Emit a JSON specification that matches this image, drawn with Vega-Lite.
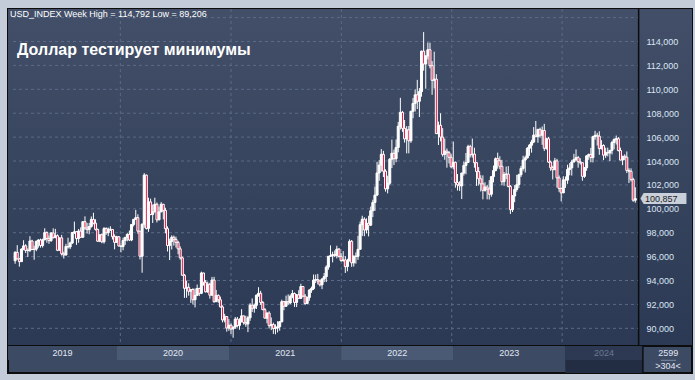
{
"$schema": "https://vega.github.io/schema/vega-lite/v6.json",
"autosize": {"type": "pad"},
"padding": {"left": 7, "top": 7, "right": 2, "bottom": 7},
"background": "#c3ccd8",
"bounds": "flush",
"spacing": 0,
"title": {"text": "USD_INDEX Week High = 114,792 Low = 89,206", "anchor": "start", "frame": "group", "orient": "top", "offset": -12, "dx": 2, "fontSize": 9, "fontWeight": "normal", "color": "#ffffff", "font": "Liberation Sans"},
"datasets": {
"candles": [
{"d":"2019-01-18","o":95.65,"h":96.45,"l":95.40,"c":96.36},
{"d":"2019-01-25","o":96.36,"h":96.96,"l":95.76,"c":95.81},
{"d":"2019-02-01","o":95.81,"h":95.90,"l":95.16,"c":95.58},
{"d":"2019-02-08","o":95.58,"h":96.69,"l":95.55,"c":96.63},
{"d":"2019-02-15","o":96.63,"h":97.37,"l":96.53,"c":96.90},
{"d":"2019-02-22","o":96.90,"h":97.04,"l":96.30,"c":96.51},
{"d":"2019-03-01","o":96.51,"h":96.69,"l":95.97,"c":96.52},
{"d":"2019-03-08","o":96.52,"h":97.71,"l":96.38,"c":97.31},
{"d":"2019-03-15","o":97.31,"h":97.41,"l":96.54,"c":96.60},
{"d":"2019-03-22","o":96.60,"h":96.92,"l":95.74,"c":96.62},
{"d":"2019-03-29","o":96.62,"h":97.34,"l":96.45,"c":97.28},
{"d":"2019-04-05","o":97.28,"h":97.46,"l":96.75,"c":97.39},
{"d":"2019-04-12","o":97.39,"h":97.50,"l":96.75,"c":96.93},
{"d":"2019-04-19","o":96.93,"h":97.50,"l":96.76,"c":97.41},
{"d":"2019-04-26","o":97.41,"h":98.37,"l":97.36,"c":98.01},
{"d":"2019-05-03","o":98.01,"h":98.11,"l":97.16,"c":97.52},
{"d":"2019-05-10","o":97.52,"h":97.77,"l":97.07,"c":97.34},
{"d":"2019-05-17","o":97.34,"h":98.03,"l":97.23,"c":97.98},
{"d":"2019-05-24","o":97.98,"h":98.37,"l":97.51,"c":97.59},
{"d":"2019-05-31","o":97.59,"h":98.32,"l":97.54,"c":97.75},
{"d":"2019-06-07","o":97.75,"h":97.86,"l":96.46,"c":96.53},
{"d":"2019-06-14","o":96.53,"h":97.57,"l":96.51,"c":97.57},
{"d":"2019-06-21","o":97.57,"h":97.82,"l":96.09,"c":96.23},
{"d":"2019-06-28","o":96.23,"h":96.41,"l":95.84,"c":96.13},
{"d":"2019-07-05","o":96.13,"h":97.07,"l":96.13,"c":96.85},
{"d":"2019-07-12","o":96.85,"h":97.58,"l":96.67,"c":96.81},
{"d":"2019-07-19","o":96.81,"h":97.25,"l":96.63,"c":97.14},
{"d":"2019-07-26","o":97.14,"h":98.05,"l":97.05,"c":98.02},
{"d":"2019-08-02","o":98.02,"h":98.93,"l":97.89,"c":98.08},
{"d":"2019-08-09","o":98.08,"h":98.14,"l":96.98,"c":97.51},
{"d":"2019-08-16","o":97.51,"h":98.31,"l":97.16,"c":98.14},
{"d":"2019-08-23","o":98.14,"h":98.45,"l":97.58,"c":97.62},
{"d":"2019-08-30","o":97.62,"h":98.94,"l":97.59,"c":98.92},
{"d":"2019-09-06","o":98.92,"h":99.37,"l":98.23,"c":98.40},
{"d":"2019-09-13","o":98.40,"h":98.82,"l":97.93,"c":98.26},
{"d":"2019-09-20","o":98.26,"h":98.82,"l":97.87,"c":98.52},
{"d":"2019-09-27","o":98.52,"h":99.36,"l":98.42,"c":99.11},
{"d":"2019-10-04","o":99.11,"h":99.67,"l":98.70,"c":98.80},
{"d":"2019-10-11","o":98.80,"h":99.13,"l":98.18,"c":98.28},
{"d":"2019-10-18","o":98.28,"h":98.34,"l":97.23,"c":97.29},
{"d":"2019-10-25","o":97.29,"h":97.84,"l":97.21,"c":97.83},
{"d":"2019-11-01","o":97.83,"h":97.94,"l":97.12,"c":97.24},
{"d":"2019-11-08","o":97.24,"h":98.47,"l":97.09,"c":98.35},
{"d":"2019-11-15","o":98.35,"h":98.45,"l":97.82,"c":98.00},
{"d":"2019-11-22","o":98.00,"h":98.43,"l":97.71,"c":98.30},
{"d":"2019-11-29","o":98.30,"h":98.54,"l":98.14,"c":98.27},
{"d":"2019-12-06","o":98.27,"h":98.28,"l":97.43,"c":97.67},
{"d":"2019-12-13","o":97.67,"h":97.86,"l":96.61,"c":97.19},
{"d":"2019-12-20","o":97.19,"h":97.74,"l":97.15,"c":97.66},
{"d":"2019-12-27","o":97.66,"h":97.72,"l":96.85,"c":96.89},
{"d":"2020-01-03","o":96.89,"h":96.94,"l":96.36,"c":96.84},
{"d":"2020-01-10","o":96.84,"h":97.58,"l":96.53,"c":97.35},
{"d":"2020-01-17","o":97.35,"h":97.64,"l":96.98,"c":97.61},
{"d":"2020-01-24","o":97.61,"h":97.96,"l":97.28,"c":97.86},
{"d":"2020-01-31","o":97.86,"h":98.19,"l":97.30,"c":97.39},
{"d":"2020-02-07","o":97.39,"h":98.72,"l":97.29,"c":98.69},
{"d":"2020-02-14","o":98.69,"h":99.13,"l":98.53,"c":99.12},
{"d":"2020-02-21","o":99.12,"h":99.91,"l":99.06,"c":99.26},
{"d":"2020-02-28","o":99.26,"h":99.54,"l":97.91,"c":98.13},
{"d":"2020-03-06","o":98.13,"h":98.13,"l":95.76,"c":96.03},
{"d":"2020-03-13","o":96.03,"h":98.78,"l":94.65,"c":98.71},
{"d":"2020-03-20","o":98.71,"h":102.99,"l":98.41,"c":102.82},
{"d":"2020-03-27","o":102.82,"h":102.86,"l":98.27,"c":98.36},
{"d":"2020-04-03","o":98.36,"h":100.93,"l":98.07,"c":100.58},
{"d":"2020-04-10","o":100.58,"h":100.85,"l":99.46,"c":99.52},
{"d":"2020-04-17","o":99.52,"h":100.36,"l":98.81,"c":99.77},
{"d":"2020-04-24","o":99.77,"h":100.93,"l":99.66,"c":100.38},
{"d":"2020-05-01","o":100.38,"h":100.53,"l":98.86,"c":99.08},
{"d":"2020-05-08","o":99.08,"h":100.19,"l":99.04,"c":99.74},
{"d":"2020-05-15","o":99.74,"h":100.56,"l":99.72,"c":100.38},
{"d":"2020-05-22","o":100.38,"h":100.41,"l":99.11,"c":99.87},
{"d":"2020-05-29","o":99.87,"h":100.09,"l":97.95,"c":98.34},
{"d":"2020-06-05","o":98.34,"h":98.53,"l":96.43,"c":96.93},
{"d":"2020-06-12","o":96.93,"h":97.50,"l":95.71,"c":97.27},
{"d":"2020-06-19","o":97.27,"h":97.78,"l":96.60,"c":97.62},
{"d":"2020-06-26","o":97.62,"h":97.76,"l":96.92,"c":97.44},
{"d":"2020-07-03","o":97.44,"h":97.67,"l":96.76,"c":97.19},
{"d":"2020-07-10","o":97.19,"h":97.32,"l":96.20,"c":96.65},
{"d":"2020-07-17","o":96.65,"h":96.86,"l":95.75,"c":95.90},
{"d":"2020-07-24","o":95.90,"h":96.00,"l":94.40,"c":94.44},
{"d":"2020-07-31","o":94.44,"h":94.55,"l":92.55,"c":93.35},
{"d":"2020-08-07","o":93.35,"h":93.99,"l":92.55,"c":93.43},
{"d":"2020-08-14","o":93.43,"h":93.77,"l":92.73,"c":93.10},
{"d":"2020-08-21","o":93.10,"h":93.25,"l":92.13,"c":93.25},
{"d":"2020-08-28","o":93.25,"h":93.35,"l":91.99,"c":92.39},
{"d":"2020-09-04","o":92.39,"h":93.33,"l":91.75,"c":92.76},
{"d":"2020-09-11","o":92.76,"h":93.66,"l":92.70,"c":93.33},
{"d":"2020-09-18","o":93.33,"h":93.40,"l":92.70,"c":92.93},
{"d":"2020-09-25","o":92.93,"h":94.74,"l":92.86,"c":94.63},
{"d":"2020-10-02","o":94.63,"h":94.65,"l":93.57,"c":93.85},
{"d":"2020-10-09","o":93.85,"h":94.04,"l":92.99,"c":93.06},
{"d":"2020-10-16","o":93.06,"h":93.91,"l":92.96,"c":93.69},
{"d":"2020-10-23","o":93.69,"h":93.81,"l":92.48,"c":92.77},
{"d":"2020-10-30","o":92.77,"h":94.30,"l":92.77,"c":94.04},
{"d":"2020-11-06","o":94.04,"h":94.31,"l":92.13,"c":92.23},
{"d":"2020-11-13","o":92.23,"h":93.21,"l":92.23,"c":92.76},
{"d":"2020-11-20","o":92.76,"h":92.83,"l":92.13,"c":92.39},
{"d":"2020-11-27","o":92.39,"h":92.65,"l":91.75,"c":91.79},
{"d":"2020-12-04","o":91.79,"h":91.92,"l":90.50,"c":90.70},
{"d":"2020-12-11","o":90.70,"h":91.21,"l":90.50,"c":90.98},
{"d":"2020-12-18","o":90.98,"h":91.00,"l":89.72,"c":90.02},
{"d":"2020-12-25","o":90.02,"h":90.77,"l":89.79,"c":90.26},
{"d":"2021-01-01","o":90.26,"h":90.41,"l":89.53,"c":89.94},
{"d":"2021-01-08","o":89.94,"h":90.15,"l":89.21,"c":90.10},
{"d":"2021-01-15","o":90.10,"h":90.95,"l":89.95,"c":90.77},
{"d":"2021-01-22","o":90.77,"h":90.95,"l":90.07,"c":90.24},
{"d":"2021-01-29","o":90.24,"h":90.84,"l":89.88,"c":90.58},
{"d":"2021-02-05","o":90.58,"h":91.60,"l":90.48,"c":91.04},
{"d":"2021-02-12","o":91.04,"h":91.06,"l":90.30,"c":90.48},
{"d":"2021-02-19","o":90.48,"h":91.05,"l":90.13,"c":90.36},
{"d":"2021-02-26","o":90.36,"h":91.04,"l":89.68,"c":90.88},
{"d":"2021-03-05","o":90.88,"h":92.10,"l":90.63,"c":91.94},
{"d":"2021-03-12","o":91.94,"h":92.50,"l":91.37,"c":91.68},
{"d":"2021-03-19","o":91.68,"h":92.07,"l":91.31,"c":91.92},
{"d":"2021-03-26","o":91.92,"h":92.83,"l":91.62,"c":92.77},
{"d":"2021-04-02","o":92.77,"h":93.44,"l":92.64,"c":92.93},
{"d":"2021-04-09","o":92.93,"h":93.14,"l":91.96,"c":92.16},
{"d":"2021-04-16","o":92.16,"h":92.29,"l":91.52,"c":91.56},
{"d":"2021-04-23","o":91.56,"h":91.70,"l":90.82,"c":90.85},
{"d":"2021-04-30","o":90.85,"h":91.33,"l":90.42,"c":91.28},
{"d":"2021-05-07","o":91.28,"h":91.43,"l":89.98,"c":90.22},
{"d":"2021-05-14","o":90.22,"h":90.91,"l":89.85,"c":90.32},
{"d":"2021-05-21","o":90.32,"h":90.47,"l":89.53,"c":89.99},
{"d":"2021-05-28","o":89.99,"h":90.33,"l":89.50,"c":90.03},
{"d":"2021-06-04","o":90.03,"h":90.60,"l":89.66,"c":90.13},
{"d":"2021-06-11","o":90.13,"h":90.61,"l":89.80,"c":90.55},
{"d":"2021-06-18","o":90.55,"h":92.40,"l":90.49,"c":92.23},
{"d":"2021-06-25","o":92.23,"h":92.30,"l":91.51,"c":91.85},
{"d":"2021-07-02","o":91.85,"h":92.74,"l":91.79,"c":92.23},
{"d":"2021-07-09","o":92.23,"h":92.84,"l":91.94,"c":92.12},
{"d":"2021-07-16","o":92.12,"h":92.83,"l":92.02,"c":92.68},
{"d":"2021-07-23","o":92.68,"h":93.20,"l":92.52,"c":92.91},
{"d":"2021-07-30","o":92.91,"h":93.00,"l":91.79,"c":92.17},
{"d":"2021-08-06","o":92.17,"h":92.87,"l":91.78,"c":92.80},
{"d":"2021-08-13","o":92.80,"h":93.19,"l":92.47,"c":92.51},
{"d":"2021-08-20","o":92.51,"h":93.73,"l":92.45,"c":93.50},
{"d":"2021-08-27","o":93.50,"h":93.53,"l":92.62,"c":92.69},
{"d":"2021-09-03","o":92.69,"h":92.87,"l":91.94,"c":92.08},
{"d":"2021-09-10","o":92.08,"h":92.66,"l":92.03,"c":92.58},
{"d":"2021-09-17","o":92.58,"h":93.28,"l":92.30,"c":93.20},
{"d":"2021-09-24","o":93.20,"h":93.49,"l":92.97,"c":93.33},
{"d":"2021-10-01","o":93.33,"h":94.50,"l":93.20,"c":94.04},
{"d":"2021-10-08","o":94.04,"h":94.50,"l":93.79,"c":94.08},
{"d":"2021-10-15","o":94.08,"h":94.56,"l":93.67,"c":93.96},
{"d":"2021-10-22","o":93.96,"h":94.07,"l":93.50,"c":93.64},
{"d":"2021-10-29","o":93.64,"h":94.20,"l":93.28,"c":94.12},
{"d":"2021-11-05","o":94.12,"h":94.63,"l":93.87,"c":94.32},
{"d":"2021-11-12","o":94.32,"h":95.27,"l":93.87,"c":95.12},
{"d":"2021-11-19","o":95.12,"h":96.04,"l":94.90,"c":96.03},
{"d":"2021-11-26","o":96.03,"h":96.94,"l":95.97,"c":96.08},
{"d":"2021-12-03","o":96.08,"h":96.41,"l":95.52,"c":96.17},
{"d":"2021-12-10","o":96.17,"h":96.51,"l":95.96,"c":96.08},
{"d":"2021-12-17","o":96.08,"h":96.91,"l":95.85,"c":96.63},
{"d":"2021-12-24","o":96.63,"h":96.71,"l":95.93,"c":96.02},
{"d":"2021-12-31","o":96.02,"h":96.30,"l":95.57,"c":95.67},
{"d":"2022-01-07","o":95.67,"h":96.46,"l":95.57,"c":95.72},
{"d":"2022-01-14","o":95.72,"h":96.04,"l":94.63,"c":95.16},
{"d":"2022-01-21","o":95.16,"h":95.82,"l":94.77,"c":95.64},
{"d":"2022-01-28","o":95.64,"h":97.44,"l":95.61,"c":97.28},
{"d":"2022-02-04","o":97.28,"h":97.39,"l":95.14,"c":95.48},
{"d":"2022-02-11","o":95.48,"h":96.09,"l":95.17,"c":96.04},
{"d":"2022-02-18","o":96.04,"h":96.35,"l":95.41,"c":96.02},
{"d":"2022-02-25","o":96.02,"h":97.74,"l":95.73,"c":96.61},
{"d":"2022-03-04","o":96.61,"h":98.93,"l":96.61,"c":98.67},
{"d":"2022-03-11","o":98.67,"h":99.42,"l":97.72,"c":99.13},
{"d":"2022-03-18","o":99.13,"h":99.29,"l":97.71,"c":98.23},
{"d":"2022-03-25","o":98.23,"h":99.20,"l":97.94,"c":98.79},
{"d":"2022-04-01","o":98.79,"h":99.42,"l":97.69,"c":98.63},
{"d":"2022-04-08","o":98.63,"h":100.19,"l":98.56,"c":99.84},
{"d":"2022-04-15","o":99.84,"h":100.76,"l":99.31,"c":100.53},
{"d":"2022-04-22","o":100.53,"h":101.86,"l":99.82,"c":101.15},
{"d":"2022-04-29","o":101.15,"h":103.93,"l":101.06,"c":103.00},
{"d":"2022-05-06","o":103.00,"h":104.07,"l":102.35,"c":103.66},
{"d":"2022-05-13","o":103.66,"h":105.00,"l":103.11,"c":104.56},
{"d":"2022-05-20","o":104.56,"h":104.85,"l":102.66,"c":103.15},
{"d":"2022-05-27","o":103.15,"h":103.31,"l":101.44,"c":101.67},
{"d":"2022-06-03","o":101.67,"h":102.77,"l":101.29,"c":102.14},
{"d":"2022-06-10","o":102.14,"h":104.24,"l":101.96,"c":104.15},
{"d":"2022-06-17","o":104.15,"h":105.79,"l":103.41,"c":104.65},
{"d":"2022-06-24","o":104.65,"h":104.95,"l":103.66,"c":104.19},
{"d":"2022-07-01","o":104.19,"h":105.80,"l":103.90,"c":105.13},
{"d":"2022-07-08","o":105.13,"h":107.27,"l":104.73,"c":106.91},
{"d":"2022-07-15","o":106.91,"h":109.29,"l":106.63,"c":108.07},
{"d":"2022-07-22","o":108.07,"h":108.19,"l":106.44,"c":106.73},
{"d":"2022-07-29","o":106.73,"h":107.43,"l":105.54,"c":105.85},
{"d":"2022-08-05","o":105.85,"h":106.92,"l":104.64,"c":106.61},
{"d":"2022-08-12","o":106.61,"h":106.93,"l":104.64,"c":105.69},
{"d":"2022-08-19","o":105.69,"h":108.20,"l":105.52,"c":108.16},
{"d":"2022-08-26","o":108.16,"h":109.27,"l":107.58,"c":108.82},
{"d":"2022-09-02","o":108.82,"h":109.99,"l":108.14,"c":109.54},
{"d":"2022-09-09","o":109.54,"h":110.79,"l":108.35,"c":109.00},
{"d":"2022-09-16","o":109.00,"h":110.10,"l":107.68,"c":109.81},
{"d":"2022-09-23","o":109.81,"h":113.24,"l":109.38,"c":113.19},
{"d":"2022-09-30","o":113.19,"h":114.79,"l":111.56,"c":112.12},
{"d":"2022-10-07","o":112.12,"h":112.86,"l":110.05,"c":112.79},
{"d":"2022-10-14","o":112.79,"h":113.92,"l":112.50,"c":113.31},
{"d":"2022-10-21","o":113.31,"h":113.90,"l":111.76,"c":111.98},
{"d":"2022-10-28","o":111.98,"h":112.36,"l":109.54,"c":110.75},
{"d":"2022-11-04","o":110.75,"h":113.15,"l":110.08,"c":110.85},
{"d":"2022-11-11","o":110.85,"h":111.27,"l":106.28,"c":106.29},
{"d":"2022-11-18","o":106.29,"h":107.30,"l":105.34,"c":106.99},
{"d":"2022-11-25","o":106.99,"h":107.99,"l":105.64,"c":106.00},
{"d":"2022-12-02","o":106.00,"h":106.75,"l":104.37,"c":104.55},
{"d":"2022-12-09","o":104.55,"h":105.87,"l":104.10,"c":104.83},
{"d":"2022-12-16","o":104.83,"h":105.05,"l":103.44,"c":104.70},
{"d":"2022-12-23","o":104.70,"h":104.84,"l":103.80,"c":104.31},
{"d":"2022-12-30","o":104.31,"h":104.56,"l":103.39,"c":103.52},
{"d":"2023-01-06","o":103.52,"h":105.63,"l":103.31,"c":103.89},
{"d":"2023-01-13","o":103.89,"h":103.96,"l":101.77,"c":102.20},
{"d":"2023-01-20","o":102.20,"h":102.91,"l":101.53,"c":102.01},
{"d":"2023-01-27","o":102.01,"h":102.31,"l":101.50,"c":101.92},
{"d":"2023-02-03","o":101.92,"h":103.02,"l":100.82,"c":102.99},
{"d":"2023-02-10","o":102.99,"h":103.96,"l":102.78,"c":103.63},
{"d":"2023-02-17","o":103.63,"h":104.67,"l":102.89,"c":103.88},
{"d":"2023-02-24","o":103.88,"h":105.36,"l":103.83,"c":105.21},
{"d":"2023-03-03","o":105.21,"h":105.36,"l":104.30,"c":104.52},
{"d":"2023-03-10","o":104.52,"h":105.88,"l":104.28,"c":104.58},
{"d":"2023-03-17","o":104.58,"h":105.11,"l":103.44,"c":103.86},
{"d":"2023-03-24","o":103.86,"h":103.90,"l":101.92,"c":103.12},
{"d":"2023-03-31","o":103.12,"h":103.49,"l":101.95,"c":102.51},
{"d":"2023-04-07","o":102.51,"h":102.81,"l":101.45,"c":102.09},
{"d":"2023-04-14","o":102.09,"h":102.80,"l":100.79,"c":101.55},
{"d":"2023-04-21","o":101.55,"h":102.22,"l":101.43,"c":101.82},
{"d":"2023-04-28","o":101.82,"h":102.00,"l":100.79,"c":101.66},
{"d":"2023-05-05","o":101.66,"h":102.40,"l":100.78,"c":101.22},
{"d":"2023-05-12","o":101.22,"h":102.75,"l":101.01,"c":102.69},
{"d":"2023-05-19","o":102.69,"h":103.62,"l":102.21,"c":103.20},
{"d":"2023-05-26","o":103.20,"h":104.30,"l":103.14,"c":104.20},
{"d":"2023-06-02","o":104.20,"h":104.70,"l":103.36,"c":104.02},
{"d":"2023-06-09","o":104.02,"h":104.40,"l":103.31,"c":103.56},
{"d":"2023-06-16","o":103.56,"h":104.10,"l":101.97,"c":102.27},
{"d":"2023-06-23","o":102.27,"h":103.08,"l":101.92,"c":102.88},
{"d":"2023-06-30","o":102.88,"h":103.54,"l":102.49,"c":102.91},
{"d":"2023-07-07","o":102.91,"h":103.57,"l":101.80,"c":101.87},
{"d":"2023-07-14","o":101.87,"h":101.99,"l":99.57,"c":99.93},
{"d":"2023-07-21","o":99.93,"h":101.15,"l":99.73,"c":101.07},
{"d":"2023-07-28","o":101.07,"h":101.98,"l":100.55,"c":101.62},
{"d":"2023-08-04","o":101.62,"h":102.84,"l":101.43,"c":102.02},
{"d":"2023-08-11","o":102.02,"h":102.93,"l":101.74,"c":102.85},
{"d":"2023-08-18","o":102.85,"h":103.59,"l":102.66,"c":103.38},
{"d":"2023-08-25","o":103.38,"h":104.44,"l":103.19,"c":104.08},
{"d":"2023-09-01","o":104.08,"h":104.45,"l":103.04,"c":104.26},
{"d":"2023-09-08","o":104.26,"h":105.16,"l":104.21,"c":105.07},
{"d":"2023-09-15","o":105.07,"h":105.43,"l":104.43,"c":105.32},
{"d":"2023-09-22","o":105.32,"h":105.78,"l":104.70,"c":105.59},
{"d":"2023-09-29","o":105.59,"h":106.84,"l":105.49,"c":106.17},
{"d":"2023-10-06","o":106.17,"h":107.35,"l":106.00,"c":106.04},
{"d":"2023-10-13","o":106.04,"h":106.62,"l":105.53,"c":106.65},
{"d":"2023-10-20","o":106.65,"h":106.79,"l":105.95,"c":106.16},
{"d":"2023-10-27","o":106.16,"h":106.89,"l":105.35,"c":106.56},
{"d":"2023-11-03","o":106.56,"h":107.11,"l":104.84,"c":105.06},
{"d":"2023-11-10","o":105.06,"h":105.95,"l":104.95,"c":105.86},
{"d":"2023-11-17","o":105.86,"h":106.01,"l":103.85,"c":103.91},
{"d":"2023-11-24","o":103.91,"h":104.04,"l":103.18,"c":103.44},
{"d":"2023-12-01","o":103.44,"h":103.60,"l":102.46,"c":103.27},
{"d":"2023-12-08","o":103.27,"h":104.26,"l":103.25,"c":104.01},
{"d":"2023-12-15","o":104.01,"h":104.18,"l":101.77,"c":102.59},
{"d":"2023-12-22","o":102.59,"h":102.79,"l":101.42,"c":101.70},
{"d":"2023-12-29","o":101.70,"h":101.78,"l":100.62,"c":101.33},
{"d":"2024-01-05","o":101.33,"h":102.73,"l":101.33,"c":102.42},
{"d":"2024-01-12","o":102.42,"h":102.71,"l":101.75,"c":102.40},
{"d":"2024-01-19","o":102.40,"h":103.69,"l":102.09,"c":103.29},
{"d":"2024-01-26","o":103.29,"h":103.82,"l":102.80,"c":103.43},
{"d":"2024-02-02","o":103.43,"h":104.10,"l":102.78,"c":103.92},
{"d":"2024-02-09","o":103.92,"h":104.60,"l":103.89,"c":104.12},
{"d":"2024-02-16","o":104.12,"h":104.97,"l":103.98,"c":104.28},
{"d":"2024-02-23","o":104.28,"h":104.43,"l":103.44,"c":103.94},
{"d":"2024-03-01","o":103.94,"h":104.23,"l":103.70,"c":103.86},
{"d":"2024-03-08","o":103.86,"h":103.86,"l":102.35,"c":102.72},
{"d":"2024-03-15","o":102.72,"h":103.50,"l":102.59,"c":103.43},
{"d":"2024-03-22","o":103.43,"h":104.49,"l":103.18,"c":104.43},
{"d":"2024-03-29","o":104.43,"h":104.62,"l":104.10,"c":104.55},
{"d":"2024-04-05","o":104.55,"h":105.10,"l":103.89,"c":104.29},
{"d":"2024-04-12","o":104.29,"h":106.11,"l":103.88,"c":106.04},
{"d":"2024-04-19","o":106.04,"h":106.52,"l":105.78,"c":106.15},
{"d":"2024-04-26","o":106.15,"h":106.36,"l":105.30,"c":106.08},
{"d":"2024-05-03","o":106.08,"h":106.49,"l":104.52,"c":105.04},
{"d":"2024-05-10","o":105.04,"h":105.74,"l":104.96,"c":105.30},
{"d":"2024-05-17","o":105.30,"h":105.40,"l":104.08,"c":104.49},
{"d":"2024-05-24","o":104.49,"h":105.11,"l":104.26,"c":104.72},
{"d":"2024-05-31","o":104.72,"h":105.12,"l":104.39,"c":104.67},
{"d":"2024-06-07","o":104.67,"h":104.91,"l":103.99,"c":104.89},
{"d":"2024-06-14","o":104.89,"h":105.69,"l":104.55,"c":105.55},
{"d":"2024-06-21","o":105.55,"h":105.90,"l":104.98,"c":105.80},
{"d":"2024-06-28","o":105.80,"h":106.13,"l":105.38,"c":105.87},
{"d":"2024-07-05","o":105.87,"h":106.00,"l":104.80,"c":104.88},
{"d":"2024-07-12","o":104.88,"h":105.12,"l":104.06,"c":104.08},
{"d":"2024-07-19","o":104.08,"h":104.40,"l":103.65,"c":104.40},
{"d":"2024-07-26","o":104.40,"h":104.56,"l":104.07,"c":104.32},
{"d":"2024-08-02","o":104.32,"h":104.80,"l":102.99,"c":103.21},
{"d":"2024-08-09","o":103.21,"h":103.40,"l":102.16,"c":103.14},
{"d":"2024-08-16","o":103.14,"h":103.38,"l":102.28,"c":102.45},
{"d":"2024-08-23","o":102.45,"h":102.60,"l":100.59,"c":100.72},
{"d":"2024-08-30","o":100.72,"h":101.80,"l":100.51,"c":100.857}
]
},
"vconcat": [
{
"width": 684,
"height": 337,
"title": {"text": "Доллар тестирует минимумы", "anchor": "start", "frame": "group", "orient": "top", "offset": -50, "dx": 9, "fontSize": 16, "fontWeight": "bold", "color": "#ffffff", "font": "Liberation Sans"},
"layer": [
{
"data": {"values": [{}]},
"mark": {"type": "rect", "color": {"gradient": "linear", "x1": 0, "y1": 0, "x2": 0, "y2": 1, "stops": [{"offset": 0, "color": "#434f68"}, {"offset": 1, "color": "#2b3954"}]}},
"encoding": {}
},
{
"data": {"values": [{"v": 90}, {"v": 92}, {"v": 94}, {"v": 96}, {"v": 98}, {"v": 100}, {"v": 102}, {"v": 104}, {"v": 106}, {"v": 108}, {"v": 110}, {"v": 112}, {"v": 114}, {"v": 116}]},
"mark": {"type": "rule", "color": "#5b6a86", "strokeWidth": 1, "strokeDash": [3, 3]},
"encoding": {
"y": {"field": "v", "type": "quantitative", "scale": {"domain": [88.52, 116.72], "nice": false, "zero": false},
"axis": {"orient": "right", "offset": -49, "zindex": 2, "values": [90, 92, 94, 96, 98, 100, 102, 104, 106, 108, 110, 112, 114], "tickCount": 30, "labelExpr": "replace(format(datum.value, '.3f'), '.', ',')", "labelOverlap": false, "labelBound": false, "labelFlush": false, "domain": false, "ticks": false, "grid": false, "labelColor": "#dbe5f3", "labelFontSize": 9, "labelFont": "Liberation Sans", "labelPadding": 3, "title": null}},
"x": {"datum": {"year": 2019, "month": 1, "date": 11, "utc": true}, "type": "temporal", "scale": {"domain": [{"year": 2019, "month": 1, "date": 11, "utc": true}, {"year": 2025, "month": 2, "date": 17, "utc": true}]}, "axis": null},
"x2": {"datum": {"year": 2024, "month": 9, "date": 10, "utc": true}}
}
},
{
"data": {"values": [{"b": "2020-01-01"}, {"b": "2021-01-01"}, {"b": "2022-01-01"}, {"b": "2023-01-01"}, {"b": "2024-01-01"}]},
"mark": {"type": "rule", "color": "#5b6a86", "strokeWidth": 1, "strokeDash": [3, 3]},
"encoding": {"x": {"field": "b", "type": "temporal", "axis": null}}
},
{
"data": {"name": "candles"},
"mark": {"type": "rule", "color": "#ffffff", "strokeWidth": 1},
"encoding": {
"x": {"field": "d", "type": "temporal", "axis": null},
"y": {"field": "l", "type": "quantitative"},
"y2": {"field": "h"}
}
},
{
"data": {"name": "candles"},
"mark": {"type": "bar", "size": 2, "stroke": "#ffffff", "strokeWidth": 1},
"encoding": {
"x": {"field": "d", "type": "temporal", "axis": null},
"y": {"field": "o", "type": "quantitative"},
"y2": {"field": "c"},
"fill": {"condition": {"test": "datum.c < datum.o", "value": "#e3123f"}, "value": "#ffffff"}
}
},
{
"data": {"values": [{}]},
"mark": {"type": "rule", "color": "#0d0d0d", "strokeWidth": 1.5},
"encoding": {"x": {"datum": {"year": 2024, "month": 9, "date": 10, "utc": true}, "type": "temporal", "axis": null}}
},
{
"data": {"name": "candles"},
"transform": [{"filter": {"field": "d", "equal": {"year": 2024, "month": 8, "date": 30, "utc": true}}}],
"mark": {"type": "point", "shape": "M-1,0L-0.86,-0.24L1,-0.24L1,0.24L-0.86,0.24Z", "size": 2116, "filled": true, "fill": "#c9d0da", "opacity": 1, "strokeWidth": 0},
"encoding": {
"x": {"datum": {"year": 2024, "month": 12, "date": 1, "utc": true}, "type": "temporal", "axis": null},
"y": {"field": "c", "type": "quantitative"}
}
},
{
"data": {"name": "candles"},
"transform": [{"filter": {"field": "d", "equal": {"year": 2024, "month": 8, "date": 30, "utc": true}}}, {"calculate": "replace(format(datum.c, '.3f'), '.', ',')", "as": "lbl"}],
"mark": {"type": "text", "fontSize": 9, "font": "Liberation Sans", "color": "#1e1e1e", "align": "center", "baseline": "middle"},
"encoding": {
"x": {"datum": {"year": 2024, "month": 11, "date": 24, "utc": true}, "type": "temporal", "axis": null},
"y": {"field": "c", "type": "quantitative"},
"text": {"field": "lbl"}
}
}
]
},
{
"width": 684,
"height": 27,
"view": {"fill": "#3d4a63"},
"data": {"values": [
{"yr": "2019", "s": "2019-01-11", "e": "2020-01-01"},
{"yr": "2020", "s": "2020-01-01", "e": "2021-01-01"},
{"yr": "2021", "s": "2021-01-01", "e": "2022-01-01"},
{"yr": "2022", "s": "2022-01-01", "e": "2023-01-01"},
{"yr": "2023", "s": "2023-01-01", "e": "2024-01-01"},
{"yr": "2024", "s": "2024-01-01", "e": "2024-09-10"}
]},
"transform": [{"calculate": "(+toDate(datum.s) + +toDate(datum.e)) / 2", "as": "m"}],
"layer": [
{
"transform": [{"filter": "datum.yr == '2024'"}],
"mark": {"type": "rect", "color": "#222d43"},
"encoding": {
"x": {"field": "s", "type": "temporal", "scale": {"domain": [{"year": 2019, "month": 1, "date": 11, "utc": true}, {"year": 2025, "month": 2, "date": 17, "utc": true}]}, "axis": null},
"x2": {"field": "e"},
"y": {"datum": 0, "type": "quantitative", "scale": {"domain": [0, 1], "nice": false, "zero": false}, "axis": null},
"y2": {"datum": 1}
}
},
{
"mark": {"type": "rect"},
"encoding": {
"x": {"field": "s", "type": "temporal", "axis": null},
"x2": {"field": "e"},
"y": {"datum": 0.48, "type": "quantitative", "axis": null},
"y2": {"datum": 1},
"fill": {"condition": [{"test": "datum.yr == '2024'", "value": "#2d3952"}, {"test": "datum.yr == '2020' || datum.yr == '2022'", "value": "#4b5a74"}], "value": "#3d4a63"}
}
},
{
"mark": {"type": "text", "fontSize": 9, "font": "Liberation Sans", "align": "center", "baseline": "middle"},
"encoding": {
"x": {"field": "m", "type": "temporal", "axis": null},
"y": {"datum": 0.73, "type": "quantitative", "axis": null},
"text": {"field": "yr"},
"color": {"condition": {"test": "datum.yr == '2024'", "value": "#6c7891"}, "value": "#e0e8f4"}
}
},
{
"data": {"values": [{}]},
"mark": {"type": "rule", "color": "#0d0d0d", "strokeWidth": 1.5},
"encoding": {"x": {"datum": {"year": 2024, "month": 9, "date": 10, "utc": true}, "type": "temporal", "axis": null}}
},
{
"data": {"values": [{}]},
"mark": {"type": "rule", "color": "#7d8aa2", "strokeWidth": 1},
"encoding": {
"x": {"datum": {"year": 2024, "month": 11, "date": 8, "utc": true}, "type": "temporal", "axis": null},
"x2": {"datum": {"year": 2024, "month": 12, "date": 27, "utc": true}},
"y": {"datum": 0.47, "type": "quantitative", "axis": null}
}
},
{
"data": {"values": [{}]},
"mark": {"type": "text", "text": "2599", "fontSize": 9, "font": "Liberation Sans", "align": "center", "baseline": "middle", "color": "#e0e8f4"},
"encoding": {
"x": {"datum": {"year": 2024, "month": 12, "date": 2, "utc": true}, "type": "temporal", "axis": null},
"y": {"datum": 0.73, "type": "quantitative", "axis": null}
}
},
{
"data": {"values": [{}]},
"mark": {"type": "text", "text": ">304<", "fontSize": 9, "font": "Liberation Sans", "align": "center", "baseline": "middle", "color": "#e0e8f4"},
"encoding": {
"x": {"datum": {"year": 2024, "month": 12, "date": 1, "utc": true}, "type": "temporal", "axis": null},
"y": {"datum": 0.26, "type": "quantitative", "axis": null}
}
}
]
}
],
"resolve": {"scale": {"y": "independent"}},
"config": {
"font": "Liberation Sans",
"view": {"stroke": "#0d0d0d", "strokeWidth": 2}
}
}
